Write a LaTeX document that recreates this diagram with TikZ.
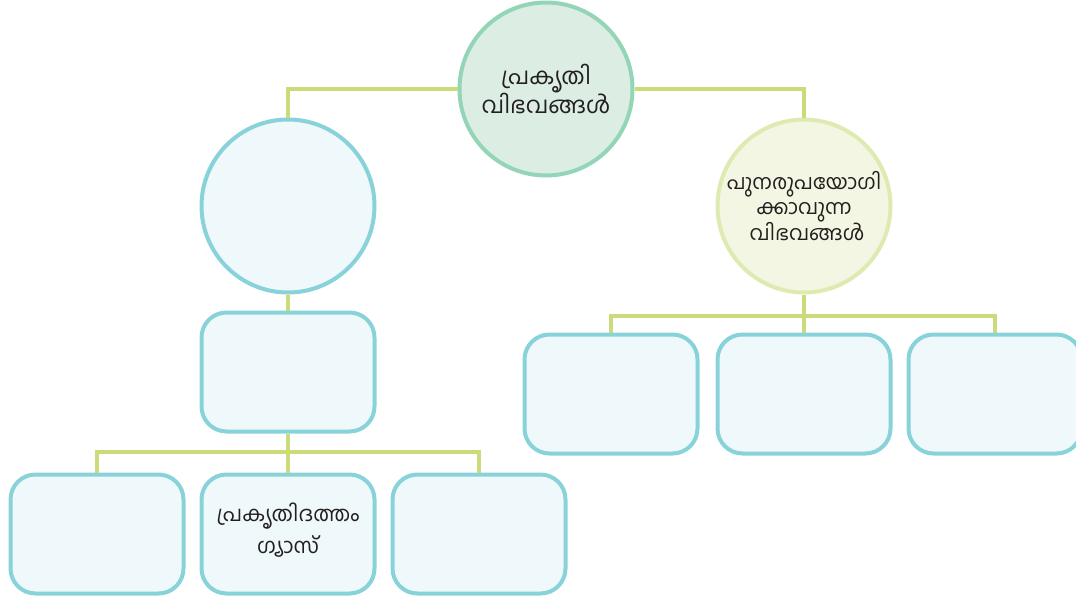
\documentclass[tikz,border=0pt]{standalone}
\usepackage{fontspec}
\newfontfamily\mlfont[Script=Malayalam]{Hind Kochi}
\definecolor{topfill}{HTML}{DCEEE3}
\definecolor{topline}{HTML}{94D5B7}
\definecolor{bluefill}{HTML}{EFF8FA}
\definecolor{blueline}{HTML}{88D3DA}
\definecolor{ylwfill}{HTML}{F3F6E2}
\definecolor{ylwline}{HTML}{DDEBB2}
\definecolor{connc}{HTML}{C9DC79}
\definecolor{txt}{HTML}{231F20}
\begin{document}
\begin{tikzpicture}[x=1pt,y=-1pt,
  conn/.style={draw=connc,line width=4pt},
  bubble/.style={circle,minimum size=173pt,inner sep=0pt,line width=4pt,align=center,text=txt,font=\mlfont},
  topc/.style={bubble,draw=topline,fill=topfill},
  bluec/.style={bubble,draw=blueline,fill=bluefill},
  ylwc/.style={bubble,draw=ylwline,fill=ylwfill},
  boxn/.style={rectangle,rounded corners=25pt,minimum width=173pt,minimum height=119pt,inner sep=0pt,line width=4pt,draw=blueline,fill=bluefill,align=center,text=txt,font=\mlfont},
  boxtext/.style={align=center,text=txt,inner sep=0pt,font=\mlfont\fontsize{21}{32}\selectfont}]
\useasboundingbox (0,0) rectangle (1076,597);
\clip (0,0) rectangle (1076,597);
% nodes
\node[topc,font=\mlfont\fontsize{23}{26}\selectfont] (top) at (546,89) {പ്രകൃതി\\വിഭവങ്ങൾ};
\node[bluec] (lc) at (288,206) {};
\node[ylwc,font=\mlfont\fontsize{20.5}{25}\selectfont] (rc) at (804,206) {പുനരുപയോഗി\\ക്കാവുന്ന\\\hspace*{6pt}വിഭവങ്ങൾ};
\node[boxn] (lr) at (288,372) {};
\node[boxn] (b1) at (97,534) {};
\node[boxn] (b2) at (288,534) {};
\node[boxtext] (b2t) at (288,530) {പ്രകൃതിദത്തം\\ഗ്യാസ്};
\node[boxn] (b3) at (479,534) {};
\node[boxn] (r1) at (611,394) {};
\node[boxn] (r2) at (804,394) {};
\node[boxn] (r3) at (995,394) {};
% connectors
\draw[conn] (lc.north) |- (top.west);
\draw[conn] (rc.north) |- (top.east);
\draw[conn] (lc.south) -- (lr.north);
\draw[conn] (lr.south) -- (b2.north);
\draw[conn] (b1.north) -- ++(0,-21) -| (b3.north);
\draw[conn] (rc.south) -- (r2.north);
\draw[conn] (r1.north) -- ++(0,-17) -| (r3.north);
\end{tikzpicture}
\end{document}
